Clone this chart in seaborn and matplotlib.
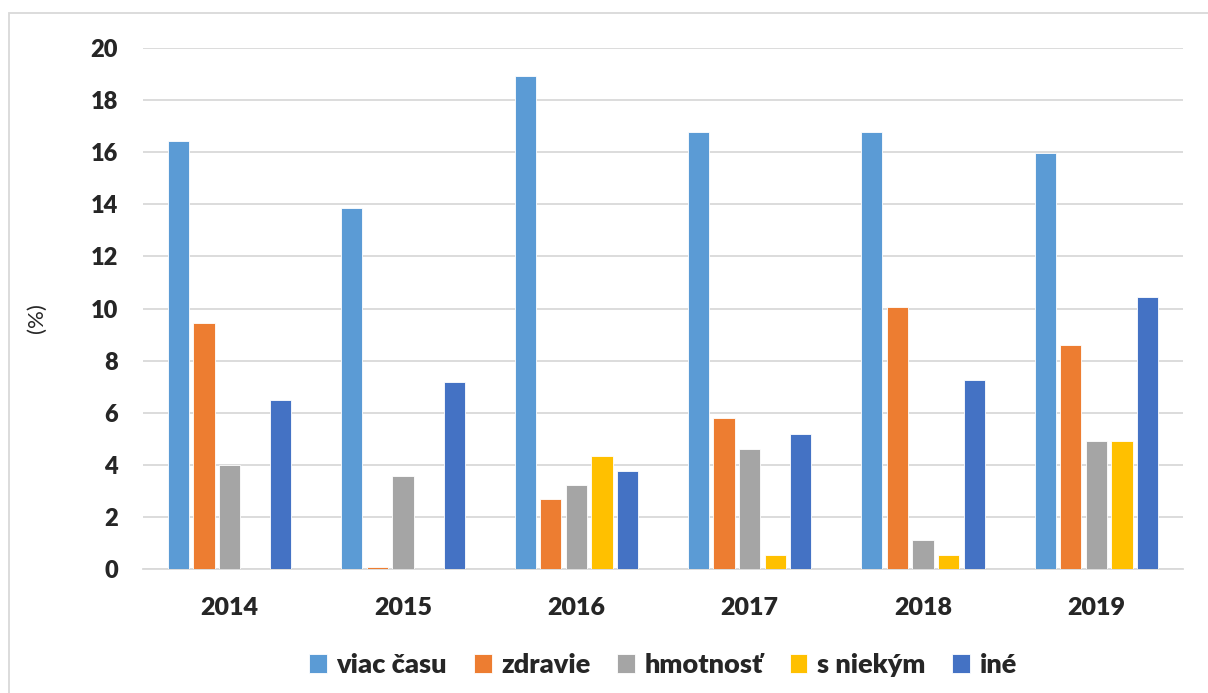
import numpy as np
import pandas as pd
import matplotlib
matplotlib.use("Agg")
import matplotlib.pyplot as plt
import seaborn as sns

# data
years = ["2014", "2015", "2016", "2017", "2018", "2019"]
series = ["viac času", "zdravie", "hmotnosť", "s niekým", "iné"]
viac_casu = [16.44, 13.86, 18.94, 16.78, 16.78, 15.98]
zdravie = [9.44, 0.08, 2.68, 5.78, 10.07, 8.59]
hmotnost = [3.98, 3.58, 3.23, 4.60, 1.10, 4.90]
s_niekym = [0.0, 0.0, 4.32, 0.55, 0.55, 4.90]
ine = [6.48, 7.17, 3.77, 5.19, 7.26, 10.44]
colors = ["#5B9BD5", "#ED7D31", "#A5A5A5", "#FFC000", "#4472C4"]

values = [viac_casu, zdravie, hmotnost, s_niekym, ine]
rows = []
for name, vals in zip(series, values):
    for y, v in zip(years, vals):
        rows.append({"rok": y, "kategoria": name, "hodnota": v})
df = pd.DataFrame(rows)

sns.set_style("white")
plt.rcParams["font.family"] = ["Lato", "DejaVu Sans"]

fig = plt.figure(figsize=(12.08, 6.93), dpi=100)
ax = fig.add_axes([143 / 1208, 1 - 569 / 693, 1040 / 1208, 521 / 693])

sns.barplot(data=df, x="rok", y="hodnota", hue="kategoria", order=years,
            hue_order=series, palette=colors, saturation=1, width=0.74,
            gap=0.18, edgecolor="white", linewidth=0.6, errorbar=None,
            ax=ax, zorder=3)

ax.set_ylim(0, 20)
ax.set_yticks(np.arange(0, 21, 2))
ax.grid(axis="y", color="#D9D9D9", linewidth=1.3, zorder=0)
ax.set_axisbelow(True)
for s in ["top", "right", "left"]:
    ax.spines[s].set_visible(False)
ax.spines["bottom"].set_color("#D9D9D9")
ax.spines["bottom"].set_linewidth(1.3)
ax.tick_params(axis="both", length=0, labelsize=17)
ax.tick_params(axis="x", pad=20, labelsize=18)
ax.tick_params(axis="y", pad=18)
for lab in ax.get_xticklabels() + ax.get_yticklabels():
    lab.set_fontweight("heavy")

ax.set_xlabel("")
ax.set_ylabel("(%)", fontsize=16)
ax.yaxis.set_label_coords(-0.092, 0.482)

ax.legend(loc="center", bbox_to_anchor=(0.5, (693 - 665 - 124) / 521),
          ncol=5, frameon=False, prop={"size": 19.5, "weight": "heavy"},
          handlelength=0.65, handleheight=0.65, handletextpad=0.35,
          columnspacing=1.0)

# chart border like the spreadsheet frame
border = plt.Rectangle((8.5 / 1208, -0.1), 1.2, 1 - 13.5 / 693 + 0.1,
                       transform=fig.transFigure, fill=False,
                       edgecolor="#D9D9D9", linewidth=1.3)
fig.patches.append(border)

fig.savefig("out.png", dpi=100)
